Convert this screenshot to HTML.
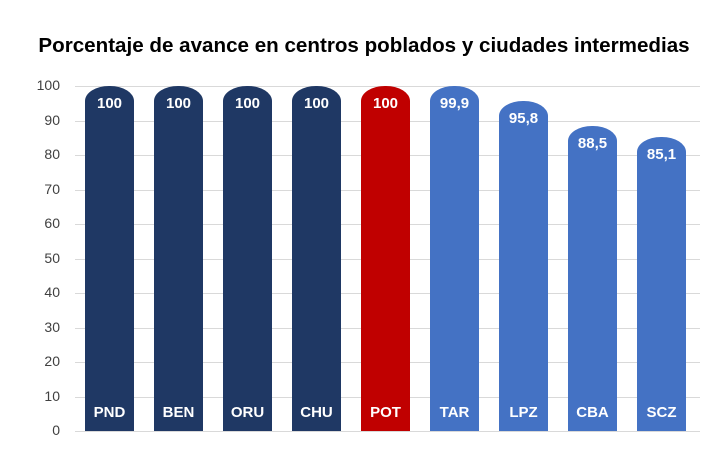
<!DOCTYPE html><html><head><style>
body{margin:0;background:#fff;width:721px;height:457px;overflow:hidden;font-family:"Liberation Sans",sans-serif;position:relative}
.t{position:absolute;top:34px;left:0;width:728px;text-align:center;font-weight:bold;font-size:20.6px;color:#000;white-space:nowrap}
.g{position:absolute;left:75px;width:625px;height:1px;background:#d9d9d9}
.y{position:absolute;left:20px;width:40px;text-align:right;font-size:14px;color:#404040}
.b{position:absolute;width:49px;border-radius:24px 24px 0 0/15px 15px 0 0;bottom:26px;color:#fff;font-weight:bold;font-size:15px;text-align:center}
.b .v{position:absolute;top:9px;width:100%}
.b .c{position:absolute;bottom:10px;width:100%}
</style></head><body>
<div class="t">Porcentaje de avance en centros poblados y ciudades intermedias</div>
<div id="a"></div>
<script>
var h='';for(var i=0;i<=10;i++){var y=431-i*34.5;h+='<div class="g" style="top:'+y+'px"></div><div class="y" style="top:'+(y-9)+'px">'+i*10+'</div>';}
var d=[["PND",100,"100","#1f3864"],["BEN",100,"100","#1f3864"],["ORU",100,"100","#1f3864"],["CHU",100,"100","#1f3864"],["POT",100,"100","#c00000"],["TAR",99.9,"99,9","#4472c4"],["LPZ",95.8,"95,8","#4472c4"],["CBA",88.5,"88,5","#4472c4"],["SCZ",85.1,"85,1","#4472c4"]];
d.forEach(function(e,i){h+='<div class="b" style="left:'+(85+i*69)+'px;height:'+(e[1]*3.45)+'px;background:'+e[3]+'"><div class="v">'+e[2]+'</div><div class="c">'+e[0]+'</div></div>';});
document.getElementById('a').innerHTML=h;
</script>
</body></html>
